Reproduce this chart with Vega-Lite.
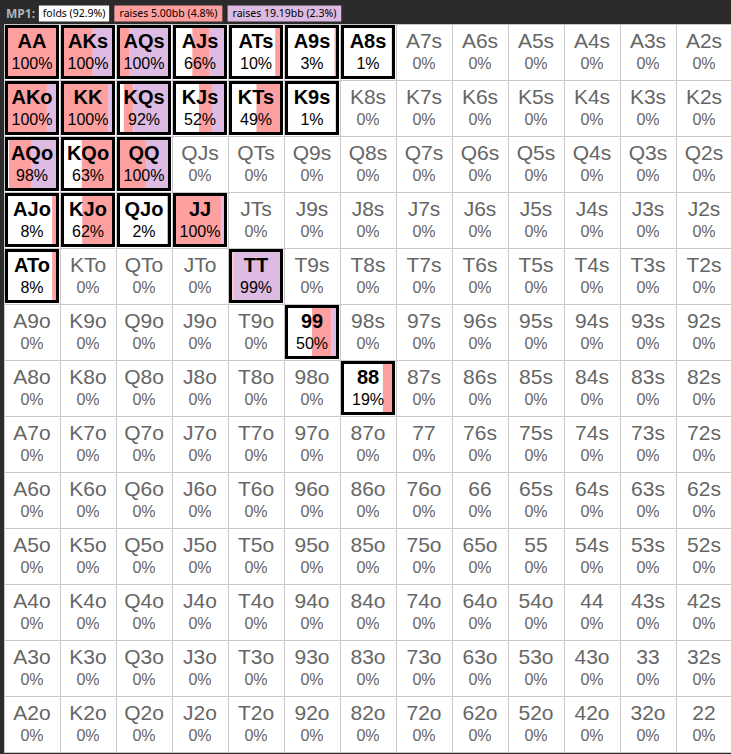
{
  "$schema": "https://vega.github.io/schema/vega-lite/v6.json",
  "background": "#2b2b2b",
  "padding": {"left": 3, "top": 0, "right": 0, "bottom": 5},
  "spacing": 0,
  "bounds": "flush",
  "config": {
    "view": {"stroke": "#c8c8c8", "fill": "white", "strokeWidth": 1},
    "facet": {"spacing": 0},
    "concat": {"spacing": 0}
  },
  "vconcat": [
    {
      "width": 728,
      "height": 21,
      "view": {"stroke": null, "fill": "#2b2b2b"},
      "data": {"values": [
        {"label": "MP1:", "kind": "title", "o": 0},
        {"label": "folds (92.9%)", "kind": "fold", "o": 1},
        {"label": "raises 5.00bb (4.8%)", "kind": "r5", "o": 2},
        {"label": "raises 19.19bb (2.3%)", "kind": "r19", "o": 3}
      ]},
      "transform": [
        {"calculate": "length(datum.label) + (datum.kind == 'title' ? 2 : 1)", "as": "w"},
        {"window": [{"op": "sum", "field": "w", "as": "e"}], "sort": [{"field": "o"}], "frame": [null, 0]},
        {"calculate": "datum.e - datum.w", "as": "s"},
        {"calculate": "datum.e - datum.w / 2", "as": "m"}
      ],
      "layer": [
        {
          "transform": [{"filter": "datum.kind != 'title'"}],
          "mark": {"type": "rect", "stroke": "#2b2b2b", "strokeWidth": 5},
          "encoding": {
            "x": {"field": "s", "type": "quantitative", "scale": {"domain": [0, 135], "nice": false, "zero": false}, "axis": null},
            "x2": {"field": "e"},
            "color": {"field": "kind", "type": "nominal", "scale": {"domain": ["fold", "r5", "r19"], "range": ["#ffffff", "#ffa0a0", "#ddbbe2"]}, "legend": null}
          }
        },
        {
          "transform": [{"filter": "datum.kind == 'title'"}],
          "mark": {"type": "text", "align": "left", "baseline": "middle", "dx": 2, "font": "Noto Sans", "fontSize": 12, "fontWeight": "bold", "color": "#aab4be"},
          "encoding": {
            "x": {"field": "s", "type": "quantitative", "scale": {"domain": [0, 135], "nice": false, "zero": false}, "axis": null},
            "text": {"field": "label"}
          }
        },
        {
          "transform": [{"filter": "datum.kind != 'title'"}],
          "mark": {"type": "text", "align": "center", "baseline": "middle", "font": "Noto Sans", "fontSize": 10.5, "color": "#000000"},
          "encoding": {
            "x": {"field": "m", "type": "quantitative", "scale": {"domain": [0, 135], "nice": false, "zero": false}, "axis": null},
            "text": {"field": "label"}
          }
        }
      ]
    },
    {
      "bounds": "flush",
      "data": {"values": [
        {"h":"AA","r":0,"c":0,"f":1,"r5":1,"r19":0},
        {"h":"AKs","r":0,"c":1,"f":1,"r5":0.6,"r19":0.4},
        {"h":"AQs","r":0,"c":2,"f":1,"r5":0.19,"r19":0.81},
        {"h":"AJs","r":0,"c":3,"f":0.66,"r5":0.35,"r19":0.31},
        {"h":"ATs","r":0,"c":4,"f":0.1,"r5":0.1,"r19":0},
        {"h":"A9s","r":0,"c":5,"f":0.03,"r5":0.03,"r19":0},
        {"h":"A8s","r":0,"c":6,"f":0.01,"r5":0,"r19":0.01},
        {"h":"A7s","r":0,"c":7,"f":0},
        {"h":"A6s","r":0,"c":8,"f":0},
        {"h":"A5s","r":0,"c":9,"f":0},
        {"h":"A4s","r":0,"c":10,"f":0},
        {"h":"A3s","r":0,"c":11,"f":0},
        {"h":"A2s","r":0,"c":12,"f":0},
        {"h":"AKo","r":1,"c":0,"f":1,"r5":0.81,"r19":0.19},
        {"h":"KK","r":1,"c":1,"f":1,"r5":0.92,"r19":0.08},
        {"h":"KQs","r":1,"c":2,"f":0.92,"r5":0.2,"r19":0.72},
        {"h":"KJs","r":1,"c":3,"f":0.52,"r5":0.27,"r19":0.25},
        {"h":"KTs","r":1,"c":4,"f":0.49,"r5":0.49,"r19":0},
        {"h":"K9s","r":1,"c":5,"f":0.01,"r5":0.01,"r19":0},
        {"h":"K8s","r":1,"c":6,"f":0},
        {"h":"K7s","r":1,"c":7,"f":0},
        {"h":"K6s","r":1,"c":8,"f":0},
        {"h":"K5s","r":1,"c":9,"f":0},
        {"h":"K4s","r":1,"c":10,"f":0},
        {"h":"K3s","r":1,"c":11,"f":0},
        {"h":"K2s","r":1,"c":12,"f":0},
        {"h":"AQo","r":2,"c":0,"f":0.98,"r5":0.46,"r19":0.52},
        {"h":"KQo","r":2,"c":1,"f":0.63,"r5":0.63,"r19":0},
        {"h":"QQ","r":2,"c":2,"f":1,"r5":0.54,"r19":0.46},
        {"h":"QJs","r":2,"c":3,"f":0},
        {"h":"QTs","r":2,"c":4,"f":0},
        {"h":"Q9s","r":2,"c":5,"f":0},
        {"h":"Q8s","r":2,"c":6,"f":0},
        {"h":"Q7s","r":2,"c":7,"f":0},
        {"h":"Q6s","r":2,"c":8,"f":0},
        {"h":"Q5s","r":2,"c":9,"f":0},
        {"h":"Q4s","r":2,"c":10,"f":0},
        {"h":"Q3s","r":2,"c":11,"f":0},
        {"h":"Q2s","r":2,"c":12,"f":0},
        {"h":"AJo","r":3,"c":0,"f":0.08,"r5":0.08,"r19":0},
        {"h":"KJo","r":3,"c":1,"f":0.62,"r5":0.62,"r19":0},
        {"h":"QJo","r":3,"c":2,"f":0.02,"r5":0.02,"r19":0},
        {"h":"JJ","r":3,"c":3,"f":1,"r5":0.94,"r19":0.06},
        {"h":"JTs","r":3,"c":4,"f":0},
        {"h":"J9s","r":3,"c":5,"f":0},
        {"h":"J8s","r":3,"c":6,"f":0},
        {"h":"J7s","r":3,"c":7,"f":0},
        {"h":"J6s","r":3,"c":8,"f":0},
        {"h":"J5s","r":3,"c":9,"f":0},
        {"h":"J4s","r":3,"c":10,"f":0},
        {"h":"J3s","r":3,"c":11,"f":0},
        {"h":"J2s","r":3,"c":12,"f":0},
        {"h":"ATo","r":4,"c":0,"f":0.08,"r5":0.08,"r19":0},
        {"h":"KTo","r":4,"c":1,"f":0},
        {"h":"QTo","r":4,"c":2,"f":0},
        {"h":"JTo","r":4,"c":3,"f":0},
        {"h":"TT","r":4,"c":4,"f":0.99,"r5":0.02,"r19":0.97},
        {"h":"T9s","r":4,"c":5,"f":0},
        {"h":"T8s","r":4,"c":6,"f":0},
        {"h":"T7s","r":4,"c":7,"f":0},
        {"h":"T6s","r":4,"c":8,"f":0},
        {"h":"T5s","r":4,"c":9,"f":0},
        {"h":"T4s","r":4,"c":10,"f":0},
        {"h":"T3s","r":4,"c":11,"f":0},
        {"h":"T2s","r":4,"c":12,"f":0},
        {"h":"A9o","r":5,"c":0,"f":0},
        {"h":"K9o","r":5,"c":1,"f":0},
        {"h":"Q9o","r":5,"c":2,"f":0},
        {"h":"J9o","r":5,"c":3,"f":0},
        {"h":"T9o","r":5,"c":4,"f":0},
        {"h":"99","r":5,"c":5,"f":0.5,"r5":0.4,"r19":0.1},
        {"h":"98s","r":5,"c":6,"f":0},
        {"h":"97s","r":5,"c":7,"f":0},
        {"h":"96s","r":5,"c":8,"f":0},
        {"h":"95s","r":5,"c":9,"f":0},
        {"h":"94s","r":5,"c":10,"f":0},
        {"h":"93s","r":5,"c":11,"f":0},
        {"h":"92s","r":5,"c":12,"f":0},
        {"h":"A8o","r":6,"c":0,"f":0},
        {"h":"K8o","r":6,"c":1,"f":0},
        {"h":"Q8o","r":6,"c":2,"f":0},
        {"h":"J8o","r":6,"c":3,"f":0},
        {"h":"T8o","r":6,"c":4,"f":0},
        {"h":"98o","r":6,"c":5,"f":0},
        {"h":"88","r":6,"c":6,"f":0.19,"r5":0.19,"r19":0},
        {"h":"87s","r":6,"c":7,"f":0},
        {"h":"86s","r":6,"c":8,"f":0},
        {"h":"85s","r":6,"c":9,"f":0},
        {"h":"84s","r":6,"c":10,"f":0},
        {"h":"83s","r":6,"c":11,"f":0},
        {"h":"82s","r":6,"c":12,"f":0},
        {"h":"A7o","r":7,"c":0,"f":0},
        {"h":"K7o","r":7,"c":1,"f":0},
        {"h":"Q7o","r":7,"c":2,"f":0},
        {"h":"J7o","r":7,"c":3,"f":0},
        {"h":"T7o","r":7,"c":4,"f":0},
        {"h":"97o","r":7,"c":5,"f":0},
        {"h":"87o","r":7,"c":6,"f":0},
        {"h":"77","r":7,"c":7,"f":0},
        {"h":"76s","r":7,"c":8,"f":0},
        {"h":"75s","r":7,"c":9,"f":0},
        {"h":"74s","r":7,"c":10,"f":0},
        {"h":"73s","r":7,"c":11,"f":0},
        {"h":"72s","r":7,"c":12,"f":0},
        {"h":"A6o","r":8,"c":0,"f":0},
        {"h":"K6o","r":8,"c":1,"f":0},
        {"h":"Q6o","r":8,"c":2,"f":0},
        {"h":"J6o","r":8,"c":3,"f":0},
        {"h":"T6o","r":8,"c":4,"f":0},
        {"h":"96o","r":8,"c":5,"f":0},
        {"h":"86o","r":8,"c":6,"f":0},
        {"h":"76o","r":8,"c":7,"f":0},
        {"h":"66","r":8,"c":8,"f":0},
        {"h":"65s","r":8,"c":9,"f":0},
        {"h":"64s","r":8,"c":10,"f":0},
        {"h":"63s","r":8,"c":11,"f":0},
        {"h":"62s","r":8,"c":12,"f":0},
        {"h":"A5o","r":9,"c":0,"f":0},
        {"h":"K5o","r":9,"c":1,"f":0},
        {"h":"Q5o","r":9,"c":2,"f":0},
        {"h":"J5o","r":9,"c":3,"f":0},
        {"h":"T5o","r":9,"c":4,"f":0},
        {"h":"95o","r":9,"c":5,"f":0},
        {"h":"85o","r":9,"c":6,"f":0},
        {"h":"75o","r":9,"c":7,"f":0},
        {"h":"65o","r":9,"c":8,"f":0},
        {"h":"55","r":9,"c":9,"f":0},
        {"h":"54s","r":9,"c":10,"f":0},
        {"h":"53s","r":9,"c":11,"f":0},
        {"h":"52s","r":9,"c":12,"f":0},
        {"h":"A4o","r":10,"c":0,"f":0},
        {"h":"K4o","r":10,"c":1,"f":0},
        {"h":"Q4o","r":10,"c":2,"f":0},
        {"h":"J4o","r":10,"c":3,"f":0},
        {"h":"T4o","r":10,"c":4,"f":0},
        {"h":"94o","r":10,"c":5,"f":0},
        {"h":"84o","r":10,"c":6,"f":0},
        {"h":"74o","r":10,"c":7,"f":0},
        {"h":"64o","r":10,"c":8,"f":0},
        {"h":"54o","r":10,"c":9,"f":0},
        {"h":"44","r":10,"c":10,"f":0},
        {"h":"43s","r":10,"c":11,"f":0},
        {"h":"42s","r":10,"c":12,"f":0},
        {"h":"A3o","r":11,"c":0,"f":0},
        {"h":"K3o","r":11,"c":1,"f":0},
        {"h":"Q3o","r":11,"c":2,"f":0},
        {"h":"J3o","r":11,"c":3,"f":0},
        {"h":"T3o","r":11,"c":4,"f":0},
        {"h":"93o","r":11,"c":5,"f":0},
        {"h":"83o","r":11,"c":6,"f":0},
        {"h":"73o","r":11,"c":7,"f":0},
        {"h":"63o","r":11,"c":8,"f":0},
        {"h":"53o","r":11,"c":9,"f":0},
        {"h":"43o","r":11,"c":10,"f":0},
        {"h":"33","r":11,"c":11,"f":0},
        {"h":"32s","r":11,"c":12,"f":0},
        {"h":"A2o","r":12,"c":0,"f":0},
        {"h":"K2o","r":12,"c":1,"f":0},
        {"h":"Q2o","r":12,"c":2,"f":0},
        {"h":"J2o","r":12,"c":3,"f":0},
        {"h":"T2o","r":12,"c":4,"f":0},
        {"h":"92o","r":12,"c":5,"f":0},
        {"h":"82o","r":12,"c":6,"f":0},
        {"h":"72o","r":12,"c":7,"f":0},
        {"h":"62o","r":12,"c":8,"f":0},
        {"h":"52o","r":12,"c":9,"f":0},
        {"h":"42o","r":12,"c":10,"f":0},
        {"h":"32o","r":12,"c":11,"f":0},
        {"h":"22","r":12,"c":12,"f":0}
      ]},
      "facet": {
        "row": {"field": "r", "type": "ordinal", "title": null, "header": {"labels": false, "title": null, "labelPadding": 0, "titlePadding": 0}},
        "column": {"field": "c", "type": "ordinal", "title": null, "header": {"labels": false, "title": null, "labelPadding": 0, "titlePadding": 0}}
      },
      "spacing": 0,
      "spec": {
        "width": 56,
        "height": 56,
        "layer": [
          {
            "transform": [{"filter": "datum.r5 > 0"}],
            "mark": {"type": "rect", "color": "#ffa0a0"},
            "encoding": {
              "x": {"field": "r19", "type": "quantitative", "scale": {"domain": [-0.0833, 1.0833], "reverse": true, "nice": false, "zero": false}, "axis": null},
              "x2": {"field": "f"},
              "y": {"datum": 0, "type": "quantitative", "scale": {"domain": [-0.0833, 1.0833], "nice": false, "zero": false}, "axis": null},
              "y2": {"datum": 1}
            }
          },
          {
            "transform": [{"filter": "datum.r19 > 0"}],
            "mark": {"type": "rect", "color": "#ddbbe2"},
            "encoding": {
              "x": {"field": "r19", "type": "quantitative", "scale": {"domain": [-0.0833, 1.0833], "reverse": true, "nice": false, "zero": false}, "axis": null},
              "x2": {"datum": 0},
              "y": {"datum": 0, "type": "quantitative", "scale": {"domain": [-0.0833, 1.0833], "nice": false, "zero": false}, "axis": null},
              "y2": {"datum": 1}
            }
          },
          {
            "transform": [{"filter": "datum.f > 0"}],
            "mark": {"type": "rect", "filled": false, "stroke": "#000000", "strokeWidth": 3},
            "encoding": {
              "x": {"datum": -0.031, "type": "quantitative", "scale": {"domain": [-0.0833, 1.0833], "reverse": true, "nice": false, "zero": false}, "axis": null},
              "x2": {"datum": 1.031},
              "y": {"datum": -0.031, "type": "quantitative", "scale": {"domain": [-0.0833, 1.0833], "nice": false, "zero": false}, "axis": null},
              "y2": {"datum": 1.031}
            }
          },
          {
            "transform": [{"filter": "datum.f > 0"}],
            "mark": {"type": "text", "align": "center", "baseline": "alphabetic", "font": "Liberation Sans", "fontSize": 20, "fontWeight": "bold", "color": "#000000"},
            "encoding": {
              "y": {"datum": 0.583, "type": "quantitative", "scale": {"domain": [-0.0833, 1.0833], "nice": false, "zero": false}, "axis": null},
              "text": {"field": "h"}
            }
          },
          {
            "transform": [{"filter": "datum.f == 0"}],
            "mark": {"type": "text", "align": "center", "baseline": "alphabetic", "font": "Liberation Sans", "fontSize": 21, "color": "#666666"},
            "encoding": {
              "y": {"datum": 0.583, "type": "quantitative", "scale": {"domain": [-0.0833, 1.0833], "nice": false, "zero": false}, "axis": null},
              "text": {"field": "h"}
            }
          },
          {
            "mark": {"type": "text", "align": "center", "baseline": "alphabetic", "font": "Liberation Sans", "fontSize": 16},
            "encoding": {
              "y": {"datum": 0.146, "type": "quantitative", "scale": {"domain": [-0.0833, 1.0833], "nice": false, "zero": false}, "axis": null},
              "text": {"field": "f", "type": "quantitative", "format": ".0%"},
              "color": {"condition": {"test": "datum.f > 0", "value": "#000000"}, "value": "#666666"}
            }
          }
        ]
      }
    }
  ]
}
